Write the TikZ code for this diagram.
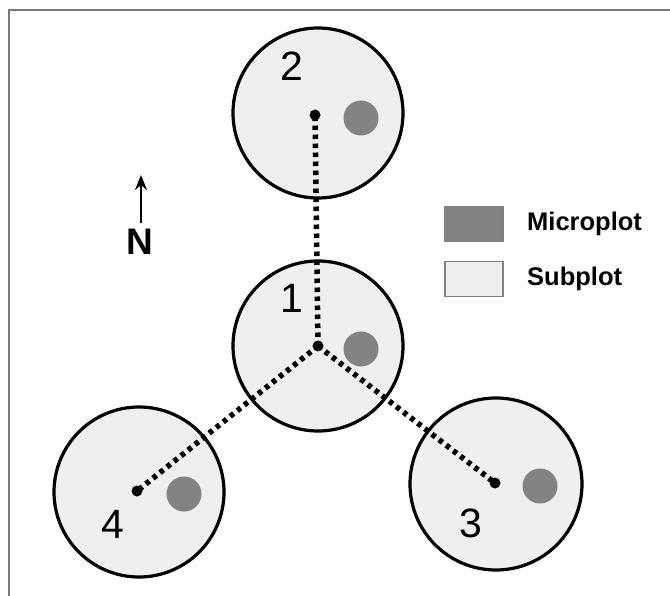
\documentclass[tikz,border=0pt]{standalone}
\usepackage{fontspec}
\setmainfont{Liberation Sans}
\usetikzlibrary{arrows.meta}
\definecolor{subfill}{HTML}{EFEFEF}
\definecolor{microfill}{HTML}{838383}
\definecolor{framegray}{HTML}{7A7A7A}
\tikzset{
  subplot/.style={circle, draw=black, line width=3.2pt, fill=subfill, inner sep=0pt, minimum size=#1},
  microplot/.style={circle, fill=microfill, inner sep=0pt, minimum size=35pt},
  ctr/.style={circle, fill=black, inner sep=0pt, minimum size=11pt},
  tie/.style={line width=5.5pt, dash pattern=on 4.5pt off 4.5pt},
  numlabel/.style={inner sep=0pt, font=\fontsize{41}{41}\selectfont},
  legendbox/.style={draw=gray, line width=1.4pt, minimum width=58pt, minimum height=35pt, inner sep=0pt},
  legendtext/.style={inner sep=0pt, anchor=west, font=\bfseries\fontsize{25.5}{26}\selectfont}
}
\begin{document}
\begin{tikzpicture}[x=1pt,y=-1pt]
\useasboundingbox (0,0) rectangle (670,596);
\fill[white] (0,0) rectangle (670,596);
% frame
\coordinate (fa) at (9,596);
\coordinate (fb) at (9,10);
\coordinate (fc) at (670,10);
\draw[framegray, line width=2.5pt] (fa) -- (fb) -- (fc);
% subplots
\node[subplot=170pt] (c1) at (318,346) {};
\node[subplot=170pt] (c2) at (318,113) {};
\node[subplot=172pt] (c3) at (496,484) {};
\node[subplot=170pt] (c4) at (139,492) {};
% microplots
\node[microplot] (m1) at (361,349) {};
\node[microplot] (m2) at (361,118) {};
\node[microplot] (m3) at (540,486) {};
\node[microplot] (m4) at (184,494) {};
% plot centres
\node[ctr] (p1) at (318,346) {};
\node[ctr] (p2) at (315,115) {};
\node[ctr] (p3) at (495,483) {};
\node[ctr] (p4) at (137,491) {};
% ties
\draw[tie] (p1.center) -- (p2.center);
\draw[tie] (p1.center) -- (p3.center);
\draw[tie] (p1.center) -- (p4.center);
% labels
\node[numlabel] (l1) at (292,298) {1};
\node[numlabel] (l2) at (292,66) {2};
\node[numlabel] (l3) at (471,523) {3};
\node[numlabel] (l4) at (113,524) {4};
% north arrow
\node[inner sep=0pt, font=\bfseries\fontsize{37}{37}\selectfont] (N) at (140,241.5) {N};
\coordinate (ntail) at (141,223);
\coordinate (ntip) at (141,175);
\draw[line width=2.2pt, -{Stealth[length=15pt,width=12pt]}] (ntail) -- (ntip);
% legend
\node[legendbox, fill=microfill] (lb1) at (474,224) {};
\node[legendbox, fill=subfill] (lb2) at (474,279) {};
\node[legendtext] (lt1) at (527,224) {Microplot};
\node[legendtext] (lt2) at (527,279) {Subplot};
\end{tikzpicture}
\end{document}
